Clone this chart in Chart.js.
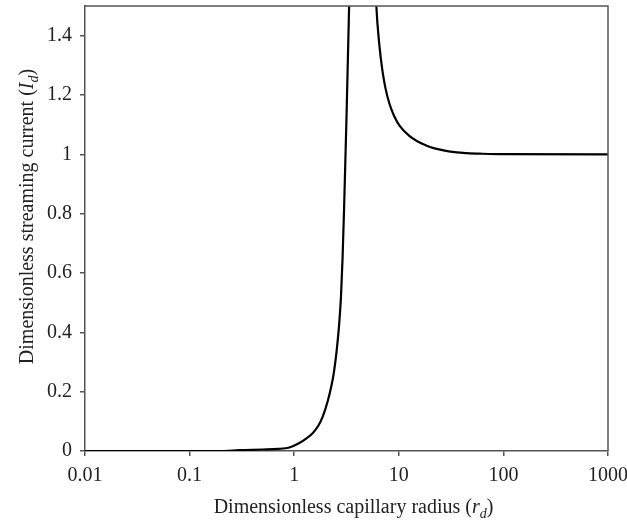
<!DOCTYPE html>
<html>
<head>
<meta charset="utf-8">
<script src="https://cdn.jsdelivr.net/npm/chart.js@4/dist/chart.umd.min.js"></script>
<style>
  html, body { margin: 0; padding: 0; background: #fff; }
  #wrap { width: 627px; height: 520px; }
</style>
</head>
<body>
<div id="wrap"><canvas id="myChart" width="627" height="520"></canvas></div>
<script>
// values (null = curve leaves the top between the two branches)
const radius = [0.01, 0.1, 0.2, 0.3, 0.5, 0.7, 0.9, 1.12, 1.3, 1.5, 1.7, 1.87, 2.1, 2.28, 2.4, 2.55, 2.68, 2.8, 2.9, 3.0, 3.16, 3.35, 3.5,
  4.5,
  5.0, 5.5, 6.1, 6.5, 7.0, 7.5, 8.1, 9, 10.2, 12.6, 15, 18.5, 22, 31, 45, 63, 100, 1000];
const current = [0, 0, 0, 0.003, 0.005, 0.007, 0.012, 0.027, 0.042, 0.06, 0.085, 0.115, 0.17, 0.223, 0.267, 0.34, 0.42, 0.52, 0.65, 0.82, 1.12, 1.5, 1.8,
  null,
  3.6, 1.95, 1.5, 1.372, 1.278, 1.219, 1.173, 1.13, 1.096, 1.062, 1.044, 1.029, 1.02, 1.009, 1.004, 1.002, 1.0005, 1.0];
const xTicks = [0.01, 0.1, 1, 10, 100, 1000];
const yTicks = [0, 0.2, 0.4, 0.6, 0.8, 1, 1.2, 1.4];

const FONT = "'Liberation Serif', 'Times New Roman', serif";
const axisColor = "#555";

function drawRich(c, parts, size) {
  let w = 0;
  parts.forEach((p) => {
    c.font = (p.it ? "italic " : "") + (p.sub ? size * 0.7 : size) + "px " + FONT;
    p.w = c.measureText(p.t).width;
    w += p.w;
  });
  let x = -w / 2;
  parts.forEach((p) => {
    c.font = (p.it ? "italic " : "") + (p.sub ? size * 0.7 : size) + "px " + FONT;
    c.fillText(p.t, x, p.sub ? size * 0.25 : 0);
    x += p.w;
  });
}

const boxAndTitles = {
  id: "boxAndTitles",
  afterDraw(chart) {
    const c = chart.ctx;
    const a = chart.chartArea;
    c.save();
    c.strokeStyle = axisColor;
    c.lineWidth = 1.5;
    c.beginPath();
    c.moveTo(a.left, a.top);
    c.lineTo(a.right, a.top);
    c.lineTo(a.right, a.bottom);
    c.stroke();

    c.fillStyle = "#222";
    c.textBaseline = "alphabetic";
    c.save();
    c.translate((a.left + a.right) / 2 + 7, 513);
    drawRich(c, [{ t: "Dimensionless capillary radius (" }, { t: "r", it: true }, { t: "d", it: true, sub: true }, { t: ")" }], 20);
    c.restore();

    c.save();
    c.translate(33, (a.top + a.bottom) / 2 - 12);
    c.rotate(-Math.PI / 2);
    drawRich(c, [{ t: "Dimensionless streaming current (" }, { t: "I", it: true }, { t: "d", it: true, sub: true }, { t: ")" }], 20);
    c.restore();
    c.restore();
  },
};

const ctx = document.getElementById("myChart").getContext("2d");

const myChart = new Chart(ctx, {
  type: "line",
  data: {
    datasets: [
      {
        data: radius.map((x, i) => ({ x: x, y: current[i] })),
        borderColor: "#000",
        borderWidth: 2.2,
        pointRadius: 0,
        cubicInterpolationMode: "monotone",
        spanGaps: false,
        fill: false,
      },
    ],
  },
  options: {
    responsive: false,
    animation: false,
    layout: { padding: { top: 6, right: 19, left: 0, bottom: 0 } },
    plugins: { legend: { display: false }, tooltip: { enabled: false } },
    scales: {
      x: {
        type: "logarithmic",
        min: 0.01,
        max: 1000,
        afterBuildTicks: (s) => { s.ticks = xTicks.map((v) => ({ value: v })); },
        afterFit: (s) => { s.height = 69; s.paddingLeft = 0; s.paddingRight = 0; },
        ticks: {
          callback: (v) => String(v),
          color: "#222",
          font: { family: FONT, size: 20 },
          padding: 8,
          maxRotation: 0,
          autoSkip: false,
        },
        grid: { drawOnChartArea: false, drawTicks: true, tickLength: 5, color: axisColor, lineWidth: 1.5 },
        border: { display: true, color: axisColor, width: 1.5 },
      },
      y: {
        min: 0,
        max: 1.5,
        afterBuildTicks: (s) => { s.ticks = yTicks.map((v) => ({ value: v })); },
        afterFit: (s) => { s.width = 85; s.paddingTop = 0; s.paddingBottom = 0; },
        ticks: {
          callback: (v) => String(v),
          color: "#222",
          font: { family: FONT, size: 20 },
          padding: 8,
        },
        grid: { drawOnChartArea: false, drawTicks: true, tickLength: 5, color: axisColor, lineWidth: 1.5 },
        border: { display: true, color: axisColor, width: 1.5 },
      },
    },
  },
  plugins: [boxAndTitles],
});
</script>
</body>
</html>
